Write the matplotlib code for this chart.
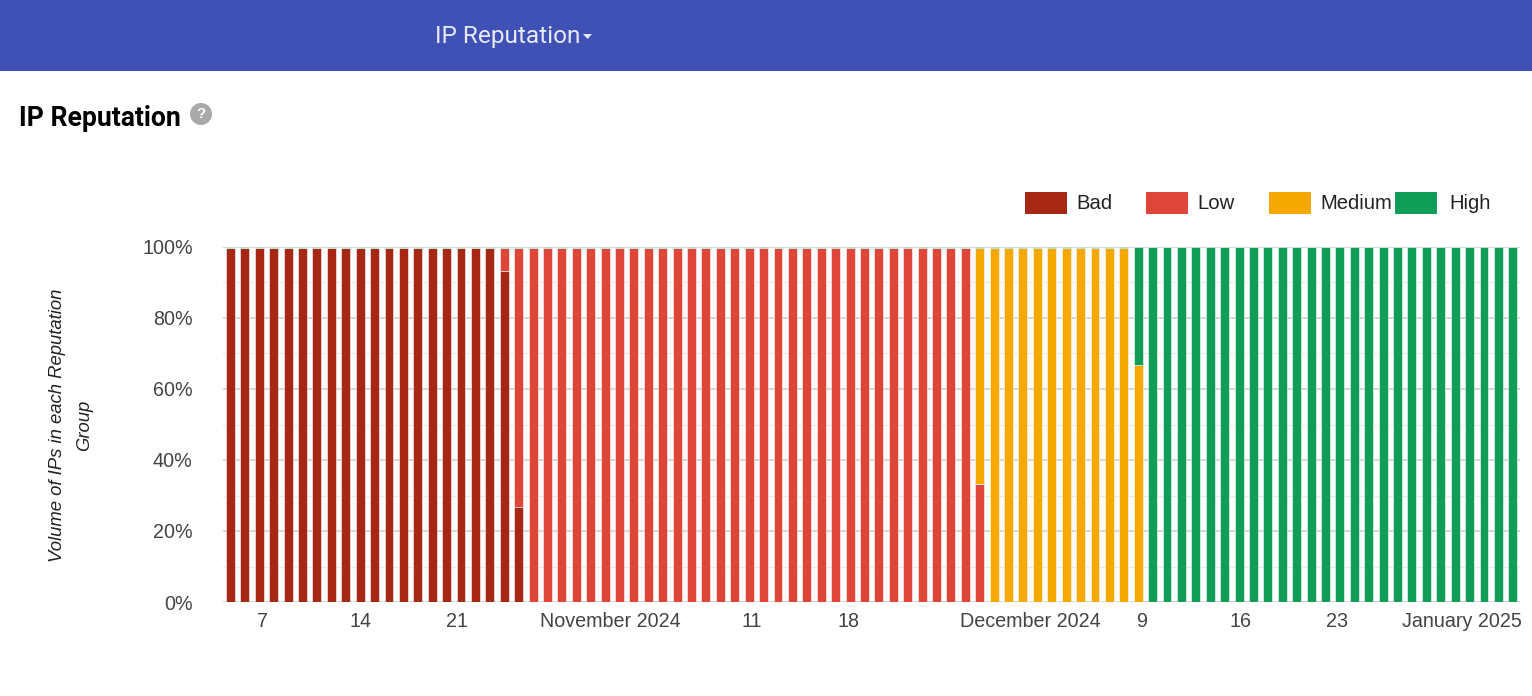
import matplotlib
matplotlib.use("Agg")
import matplotlib.pyplot as plt
from matplotlib.patches import Rectangle, Circle, Polygon

W, H = 1532, 696

# One value per day, in percent of IPs, ten days to a row
bad = [
    99.7, 99.7, 99.7, 99.7, 99.7, 99.7, 99.7, 99.7, 99.7, 99.7,
    99.7, 99.7, 99.7, 99.7, 99.7, 99.7, 99.7, 99.7, 99.7, 93.3,
    26.7, 0, 0, 0, 0, 0, 0, 0, 0, 0,
    0, 0, 0, 0, 0, 0, 0, 0, 0, 0,
    0, 0, 0, 0, 0, 0, 0, 0, 0, 0,
    0, 0, 0, 0, 0, 0, 0, 0, 0, 0,
    0, 0, 0, 0, 0, 0, 0, 0, 0, 0,
    0, 0, 0, 0, 0, 0, 0, 0, 0, 0,
    0, 0, 0, 0, 0, 0, 0, 0, 0, 0,
]
low = [
    0, 0, 0, 0, 0, 0, 0, 0, 0, 0,
    0, 0, 0, 0, 0, 0, 0, 0, 0, 6.4,
    73.0, 99.7, 99.7, 99.7, 99.7, 99.7, 99.7, 99.7, 99.7, 99.7,
    99.7, 99.7, 99.7, 99.7, 99.7, 99.7, 99.7, 99.7, 99.7, 99.7,
    99.7, 99.7, 99.7, 99.7, 99.7, 99.7, 99.7, 99.7, 99.7, 99.7,
    99.7, 99.7, 33.3, 0, 0, 0, 0, 0, 0, 0,
    0, 0, 0, 0, 0, 0, 0, 0, 0, 0,
    0, 0, 0, 0, 0, 0, 0, 0, 0, 0,
    0, 0, 0, 0, 0, 0, 0, 0, 0, 0,
]
medium = [
    0, 0, 0, 0, 0, 0, 0, 0, 0, 0,
    0, 0, 0, 0, 0, 0, 0, 0, 0, 0,
    0, 0, 0, 0, 0, 0, 0, 0, 0, 0,
    0, 0, 0, 0, 0, 0, 0, 0, 0, 0,
    0, 0, 0, 0, 0, 0, 0, 0, 0, 0,
    0, 0, 66.4, 99.7, 99.7, 99.7, 99.7, 99.7, 99.7, 99.7,
    99.7, 99.7, 99.7, 66.7, 0, 0, 0, 0, 0, 0,
    0, 0, 0, 0, 0, 0, 0, 0, 0, 0,
    0, 0, 0, 0, 0, 0, 0, 0, 0, 0,
]
high = [
    0.3, 0.3, 0.3, 0.3, 0.3, 0.3, 0.3, 0.3, 0.3, 0.3,
    0.3, 0.3, 0.3, 0.3, 0.3, 0.3, 0.3, 0.3, 0.3, 0.3,
    0.3, 0.3, 0.3, 0.3, 0.3, 0.3, 0.3, 0.3, 0.3, 0.3,
    0.3, 0.3, 0.3, 0.3, 0.3, 0.3, 0.3, 0.3, 0.3, 0.3,
    0.3, 0.3, 0.3, 0.3, 0.3, 0.3, 0.3, 0.3, 0.3, 0.3,
    0.3, 0.3, 0.3, 0.3, 0.3, 0.3, 0.3, 0.3, 0.3, 0.3,
    0.3, 0.3, 0.3, 33.3, 100, 100, 100, 100, 100, 100,
    100, 100, 100, 100, 100, 100, 100, 100, 100, 100,
    100, 100, 100, 100, 100, 100, 100, 100, 100, 100,
]
series_names = ["Bad", "Low", "Medium", "High"]
series_colors = ["#A52714", "#DE4639", "#F4A800", "#0F9D58"]
x_tick_labels = ["7", "14", "21", "November 2024", "11", "18", "December 2024",
                 "9", "16", "23", "January 2025"]
x_tick_pos = [2.2, 9.0, 15.7, 26.4, 36.2, 42.9, 55.5, 63.2, 70.1, 76.8, 85.5]

SANS = "Liberation Sans"

def fx(px):
    return px / W

def fy(py):
    return 1 - py / H

fig = plt.figure(figsize=(W / 100, H / 100), dpi=100, facecolor="white")

# Header band
fig.patches.append(Rectangle((0, fy(71)), 1, 71 / H, transform=fig.transFigure,
                             facecolor="#4051B5", edgecolor="none"))
fig.text(fx(435), fy(36), "IP Reputation", family="Roboto", fontsize=17.6,
         color="#E6E9F6", va="center", ha="left")
fig.patches.append(Polygon([(fx(583), fy(34)), (fx(592), fy(34)), (fx(587.5), fy(39))],
                           closed=True, transform=fig.transFigure,
                           facecolor="#E6E9F6", edgecolor="none"))

# Title and help icon
fig.text(fx(19), fy(119), "IP Reputation", family="Roboto", fontweight="bold",
         fontsize=19.2, color="#000000", va="center", ha="left")
icon_ax = fig.add_axes([fx(188), fy(127), 26 / W, 26 / H])
icon_ax.set_xlim(0, 26)
icon_ax.set_ylim(26, 0)
icon_ax.axis("off")
icon_ax.add_patch(Circle((13, 13), 11, facecolor="#A9A9A9", edgecolor="none"))
icon_ax.text(13, 13.5, "?", family=SANS, fontweight="bold", fontsize=11,
             color="white", ha="center", va="center")

# Plot area
left, right, top, bottom = 223.3, 1520, 247, 602
ax = fig.add_axes([fx(left), fy(bottom), (right - left) / W, (bottom - top) / H])

days = list(range(len(bad)))
base = [0.0 for _ in days]
for values, color in zip([bad, low, medium, high], series_colors):
    ax.bar(days, values, bottom=base, width=0.62, color=color,
           edgecolor=(1, 1, 1, 0.55), linewidth=0.7, zorder=3)
    base = [b + v for b, v in zip(base, values)]

ax.set_xlim(-0.5, len(bad) - 0.5)
ax.set_ylim(0, 100)
ax.set_yticks([0, 20, 40, 60, 80, 100])
ax.set_yticklabels(["0%", "20%", "40%", "60%", "80%", "100%"], family=SANS,
                   fontsize=14.2, color="#444444")
ax.set_yticks([10, 30, 50, 70, 90], minor=True)
ax.set_xticks(x_tick_pos)
ax.set_xticklabels(x_tick_labels, family=SANS, fontsize=14.2, color="#444444")
ax.tick_params(axis="both", which="both", length=0)
ax.tick_params(axis="x", pad=7)
ax.tick_params(axis="y", pad=22)
ax.grid(axis="y", which="major", color="#CCCCCC", linewidth=1.1, zorder=0)
ax.grid(axis="y", which="minor", color="#EBEBEB", linewidth=1.0, zorder=0)
ax.grid(axis="x", visible=False)
ax.set_axisbelow(True)
for side in ax.spines.values():
    side.set_visible(False)

# Axis title
fig.text(fx(57), fy(425), "Volume of IPs in each Reputation", family=SANS, style="italic",
         fontsize=13.3, color="#222222", rotation=90, ha="center", va="center")
fig.text(fx(85), fy(425), "Group", family=SANS, style="italic",
         fontsize=13.3, color="#222222", rotation=90, ha="center", va="center")

# Legend
swatch_x = [1025, 1146, 1269, 1395]
label_x = [1076, 1197, 1320, 1449]
for name, color, sx, lx in zip(series_names, series_colors, swatch_x, label_x):
    fig.patches.append(Rectangle((fx(sx), fy(214)), 42 / W, 22 / H, transform=fig.transFigure,
                                 facecolor=color, edgecolor="none"))
    fig.text(fx(lx), fy(203), name, family=SANS, fontsize=14.6, color="#222222",
             ha="left", va="center")

fig.savefig("out.png", dpi=100, facecolor="white")
